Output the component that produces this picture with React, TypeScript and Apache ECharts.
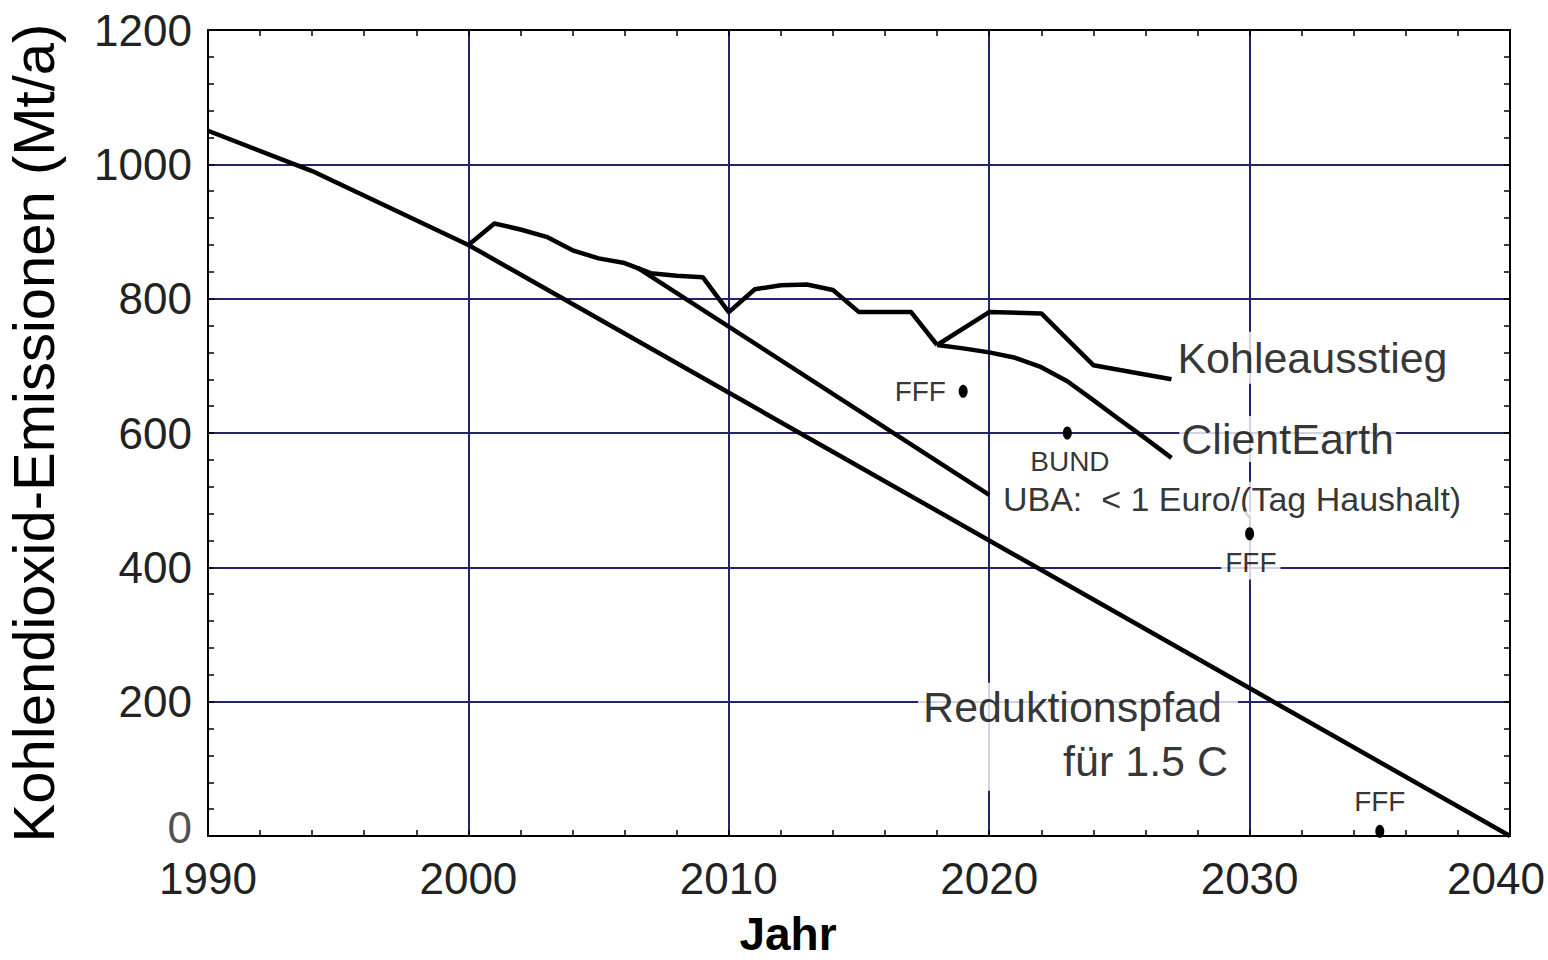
import React, { useEffect, useRef } from "react";
import * as echarts from "echarts";

const FONT = '"Liberation Sans", Arial, Helvetica, sans-serif';

// Jahr / Mt pro Jahr
const reduktionspfad: [number, number][] = [
  [1990, 1050], [1994, 990], [2000, 880], [2040, 0],
];
const historisch: [number, number][] = [
  [2000, 880], [2001, 912], [2002, 903], [2003, 892], [2004, 872], [2005, 860],
  [2006, 853], [2007, 838], [2008, 834], [2009, 832], [2010, 780], [2011, 814],
  [2012, 820], [2013, 821], [2014, 813], [2015, 780], [2016, 780], [2017, 780],
  [2018, 731],
];
const kohleausstieg: [number, number][] = [
  [2018, 731], [2020, 780], [2022, 778], [2024, 701], [2027, 680],
];
const clientEarth: [number, number][] = [
  [2018, 731], [2019, 726], [2020, 720], [2021, 712], [2022, 698], [2023, 677],
  [2024, 649], [2025, 620], [2026, 592], [2027, 563],
];
const uba: [number, number][] = [[2006.5, 846], [2020, 508]];
const zielpunkte: [number, number][] = [[2019, 662], [2023, 600], [2030, 450], [2035, 7]];

const labelTexts = [
  "FFF", "BUND", "UBA:  < 1 Euro/(Tag Haushalt)", "FFF", "FFF",
  "Kohleausstieg", "ClientEarth", "Reduktionspfad", "0",
];
const labelAnchors: [number, number][] = [
  [2018.34, 662], [2023.1, 557], [2020.45, 502], [2030.05, 382], [2035.0, 52],
  [2027.15, 712], [2027.3, 591], [2017.27, 228], [1990, 0],
];

export default function App() {
  const ref = useRef<HTMLDivElement>(null);

  useEffect(() => {
    if (!ref.current) return;
    const chart = echarts.init(ref.current, null, { renderer: "svg" });

    const small = { fontSize: 28, lineHeight: 30 };
    const big = { fontSize: 43, lineHeight: 48 };
    const labelStyles: any[] = [
      { ...small, align: "right", verticalAlign: "middle" },
      { ...small, align: "center", verticalAlign: "middle" },
      { fontSize: 34, lineHeight: 34, align: "left", verticalAlign: "middle", backgroundColor: "#fff", padding: [0, 2] },
      { ...small, align: "center", verticalAlign: "bottom", backgroundColor: "#fff", padding: [36, 4, 2, 4] },
      { ...small, align: "center", verticalAlign: "middle" },
      { fontSize: 43, lineHeight: 52, align: "left", verticalAlign: "middle", backgroundColor: "#fff", padding: [0, 2] },
      { fontSize: 43, lineHeight: 46, align: "left", verticalAlign: "middle", backgroundColor: "#fff", padding: [0, 2] },
      {
        align: "left", verticalAlign: "top", backgroundColor: "#fff", padding: [0, 10, 0, 5],
        rich: {
          a: { ...big, fontFamily: FONT, color: "#000" },
          b: { fontSize: 43, lineHeight: 60, fontFamily: FONT, color: "#000", padding: [0, 0, 0, 140] },
        },
      },
      { fontSize: 44, lineHeight: 34, align: "right", verticalAlign: "middle", color: "#222", offset: [-16, -9] },
    ];

    const labelData = labelTexts.map((t, i) => ({
      value: labelAnchors[i],
      label: {
        show: true,
        position: "inside",
        color: "#000",
        fontFamily: FONT,
        formatter: i === 7 ? "{a|" + t + "}\n{b|für 1.5 C}" : t,
        ...labelStyles[i],
      },
    }));

    const lineSeries = (data: [number, number][]) => ({
      type: "line",
      data,
      symbol: "none",
      z: 3,
      lineStyle: { color: "#000", width: 4.5, join: "round" },
    });

    const gridColor = "#24246e";
    const frame = { show: true, onZero: false, lineStyle: { color: "#000", width: 2 } };
    const tick = { show: true, inside: true, length: 6, lineStyle: { color: "#000", width: 1.5 } };
    const minor = { show: true, splitNumber: 5, length: 6, lineStyle: { color: "#000", width: 1.5 } };
    const plain = (v: number) => String(v);
    const xFormat = (v: number) => (v >= 2040 ? "{e|" + v + "}" : String(v));

    chart.setOption({
      animation: false,
      backgroundColor: "#fff",
      grid: { left: 208, right: 38, top: 30, bottom: 124, containLabel: false, outerBoundsMode: "none" },
      xAxis: [
        {
          type: "value", min: 1990, max: 2040, interval: 10, position: "bottom",
          axisLine: frame, axisTick: tick, minorTick: minor,
          axisLabel: {
            fontSize: 44, lineHeight: 40, fontFamily: FONT, color: "#222", margin: 22, formatter: xFormat,
            rich: { e: { fontSize: 44, lineHeight: 40, fontFamily: FONT, color: "#222", padding: [0, 28, 0, 0] } },
          },
          splitLine: { show: true, lineStyle: { color: gridColor, width: 2 } },
        },
        {
          type: "value", min: 1990, max: 2040, interval: 10, position: "top",
          axisLine: frame, axisTick: tick, minorTick: minor,
          axisLabel: { show: false }, splitLine: { show: false },
        },
      ],
      yAxis: [
        {
          type: "value", min: 0, max: 1200, interval: 200, position: "left",
          axisLine: frame, axisTick: tick, minorTick: minor,
          axisLabel: {
            fontSize: 44, lineHeight: 34, fontFamily: FONT, color: "#222", margin: 16,
            formatter: plain, showMinLabel: false,
          },
          splitLine: { show: true, lineStyle: { color: gridColor, width: 2 } },
          name: "Kohlendioxid-Emissionen (Mt/a)",
          nameLocation: "middle",
          nameGap: 146,
          nameTextStyle: { fontSize: 58, fontFamily: FONT, color: "#000" },
        },
        {
          type: "value", min: 0, max: 1200, interval: 200, position: "right",
          axisLine: frame, axisTick: tick, minorTick: minor,
          axisLabel: { show: false }, splitLine: { show: false },
        },
      ],
      graphic: [
        {
          type: "text", x: 788, y: 934,
          style: {
            text: "Jahr", font: "bold 46px " + FONT, fill: "#000",
            textAlign: "center", textVerticalAlign: "middle",
            align: "center", verticalAlign: "middle",
          },
        },
      ],
      series: [
        { type: "scatter", data: labelData, symbolSize: 0, z: 1, silent: true, clip: false },
        lineSeries(reduktionspfad),
        lineSeries(historisch),
        lineSeries(kohleausstieg),
        lineSeries(clientEarth),
        lineSeries(uba),
        {
          type: "scatter", data: zielpunkte, symbol: "circle", symbolSize: [9, 13], z: 4,
          itemStyle: { color: "#000", opacity: 1 },
        },
      ],
    });

    return () => chart.dispose();
  }, []);

  return (
    <div
      ref={ref}
      style={{ position: "fixed", left: 0, top: 0, width: 1548, height: 960, background: "#fff" }}
    />
  );
}
